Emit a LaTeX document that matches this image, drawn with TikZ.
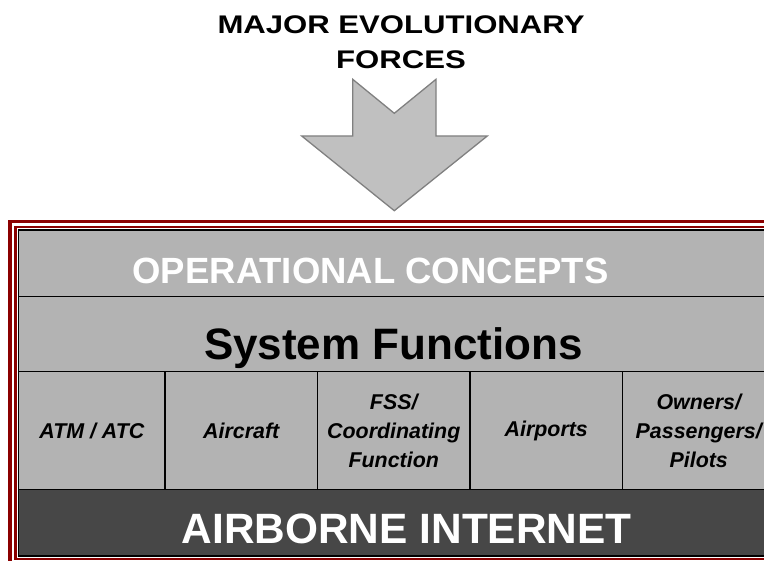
\documentclass[tikz,border=0pt]{standalone}
\usepackage{fontspec}
\setmainfont{Liberation Sans}
\newfontfamily\widesans[FakeStretch=1.22]{Liberation Sans}
\usepackage{tikz}
\usetikzlibrary{positioning,calc}
\definecolor{bandgray}{HTML}{B3B3B3}
\definecolor{netgray}{HTML}{474747}
\definecolor{framered}{HTML}{8B0000}
\definecolor{arrowfill}{HTML}{C0C0C0}
\definecolor{arrowline}{HTML}{808080}

\begin{document}
\begin{tikzpicture}[
  x=1pt, y=-1pt,
  band/.style={draw, line width=1.2pt, fill=bandgray, minimum width=756.2pt, inner sep=0pt, outer sep=0pt, anchor=north west},
  colbox/.style={draw, line width=1.2pt, fill=bandgray, minimum width=152.5pt, minimum height=118pt, inner sep=0pt, outer sep=0pt, align=center, font=\fontsize{21.4}{29}\selectfont\bfseries\itshape},
  bandtext/.style={anchor=base, inner sep=0pt}
]
\useasboundingbox (0,0) rectangle (764,561);

% title and the big arrow
\node[anchor=base, align=center, inner sep=0pt, font=\widesans\fontsize{25.5}{35}\selectfont\bfseries] (title) at (401,68.3) {MAJOR EVOLUTIONARY\\FORCES};
\coordinate (tip) at (394.3,210.7);
\filldraw[fill=arrowfill, draw=arrowline, line width=1.3pt] (352.7,79.3) -- (394.3,113.3) -- (436,79.3) -- (436,136) -- (487.3,136) -- (tip) -- (301.7,136) -- (352.7,136) -- cycle;

% layers
\node[band, minimum height=66.5pt] (ops) at (18.8,230) {};
\node[band, minimum height=75pt, below=0pt of ops] (sys) {};
\node[colbox, minimum width=146.2pt, below=0pt of sys.south west, anchor=north west] (atm) {ATM / ATC};
\node[colbox, right=0pt of atm] (acft) {Aircraft};
\node[colbox, right=0pt of acft] (fss) {FSS/\\Coordinating\\Function};
\node[colbox, right=0pt of fss] (apt) {Airports};
\node[colbox, right=0pt of apt] (own) {Owners/\\Passengers/\\Pilots};
\node[band, fill=netgray, minimum height=66.5pt, below=0pt of atm.south west, anchor=north west] (net) {};

\node[bandtext, text=white, font=\fontsize{36.5}{40}\selectfont\bfseries] (opstxt) at (370.5,283.3) {OPERATIONAL CONCEPTS};
\node[bandtext, font=\fontsize{44}{48}\selectfont\bfseries] (systxt) at (393.5,359.3) {System Functions};
\node[bandtext, text=white, font=\fontsize{42.4}{46}\selectfont\bfseries] (nettxt) at (406.7,543.3) {AIRBORNE INTERNET};

% double red frame
\draw[framered, line width=3.4pt] ($(ops.north west)+(-8.8,-8.3)$) rectangle ($(net.south east)+(10,10)$);
\draw[framered, line width=2.7pt] ($(ops.north west)+(-3.5,-3)$) rectangle ($(net.south east)+(3.5,3)$);
\end{tikzpicture}
\end{document}
